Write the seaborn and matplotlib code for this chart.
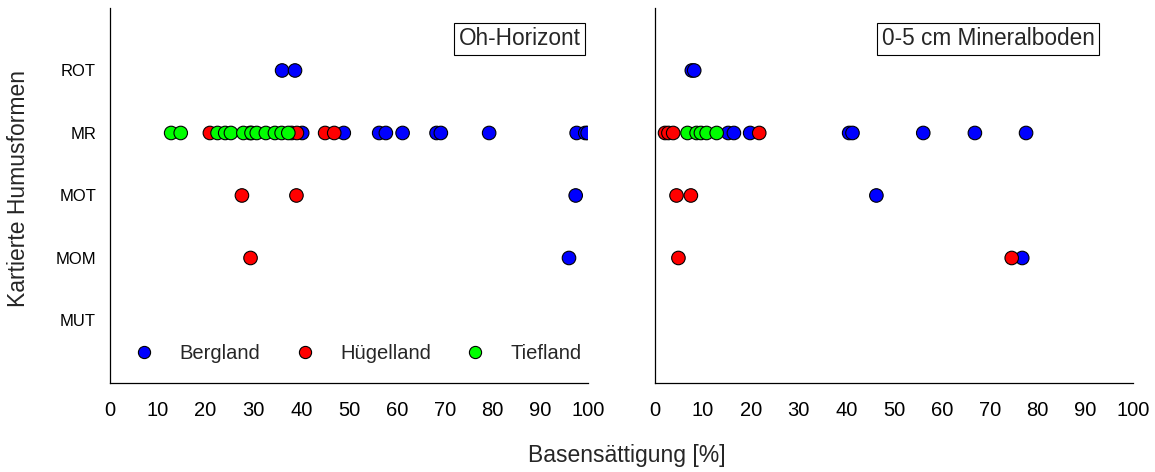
import pandas as pd
import matplotlib
matplotlib.use("Agg")
import matplotlib.pyplot as plt
import seaborn as sns

# Kategorien (von unten nach oben)
kategorien = ['MUT', 'MOM', 'MOT', 'MR', 'ROT']
regionen = ['Bergland', 'Hügelland', 'Tiefland']
farben = {'Bergland': '#0000FF', 'Hügelland': '#FF0000', 'Tiefland': '#00FF00'}

# Oh-Horizont
oh_berg_x = [36.0, 38.7, 40.2, 48.9, 56.3, 57.7, 61.2, 68.3, 69.2, 79.3, 97.6, 99.4, 99.9, 97.4, 96.0]
oh_berg_y = ['ROT', 'ROT', 'MR', 'MR', 'MR', 'MR', 'MR', 'MR', 'MR', 'MR', 'MR', 'MR', 'MR', 'MOT', 'MOM']
oh_hueg_x = [20.9, 29.3, 38.0, 39.1, 45.0, 46.9, 27.6, 39.0, 29.4]
oh_hueg_y = ['MR', 'MR', 'MR', 'MR', 'MR', 'MR', 'MOT', 'MOT', 'MOM']
oh_tief_x = [12.8, 14.8, 22.5, 24.1, 25.3, 27.9, 29.6, 30.7, 32.6, 34.5, 35.9, 37.3]
oh_tief_y = ['MR'] * 12

# 0-5 cm Mineralboden
mb_berg_x = [7.7, 8.2, 15.3, 16.5, 19.9, 40.6, 41.3, 56.1, 66.9, 77.6, 46.3, 76.8]
mb_berg_y = ['ROT', 'ROT', 'MR', 'MR', 'MR', 'MR', 'MR', 'MR', 'MR', 'MR', 'MOT', 'MOM']
mb_hueg_x = [2.1, 2.8, 3.8, 21.8, 4.5, 7.5, 4.9, 74.6]
mb_hueg_y = ['MR', 'MR', 'MR', 'MR', 'MOT', 'MOT', 'MOM', 'MOM']
mb_tief_x = [6.8, 8.7, 9.6, 10.8, 12.9]
mb_tief_y = ['MR'] * 5


def tabelle(xs, ys):
    teile = []
    for reg, x, y in zip(regionen, xs, ys):
        teile.append(pd.DataFrame({'wert': x, 'form': y, 'region': reg}))
    df = pd.concat(teile, ignore_index=True)
    df['pos'] = df['form'].map({k: i + 1 for i, k in enumerate(kategorien)})
    return df


oh = tabelle([oh_berg_x, oh_hueg_x, oh_tief_x], [oh_berg_y, oh_hueg_y, oh_tief_y])
mb = tabelle([mb_berg_x, mb_hueg_x, mb_tief_x], [mb_berg_y, mb_hueg_y, mb_tief_y])

sns.set_style("white")
plt.rcParams['font.family'] = ['Liberation Sans', 'DejaVu Sans']

fig = plt.figure(figsize=(11.55, 4.72), dpi=100)
ax1 = fig.add_axes([0.0952, 0.1886, 0.414, 0.7945])
ax2 = fig.add_axes([0.5671, 0.1886, 0.414, 0.7945])

panels = [(ax1, oh, 'Oh-Horizont', 0.984), (ax2, mb, '0-5 cm Mineralboden', 0.919)]
for ax, df, titel, xr in panels:
    sns.scatterplot(data=df, x='wert', y='pos', hue='region', hue_order=regionen,
                    palette=farben, s=95, edgecolor='black', linewidth=0.8,
                    legend=(ax is ax1), ax=ax, zorder=3)
    ax.set_xlim(0, 100)
    ax.set_ylim(0, 6)
    ax.set_xticks(range(0, 101, 10))
    ax.set_yticks(range(1, 6))
    ax.set_xlabel('')
    ax.set_ylabel('')
    for s in ['top', 'right']:
        ax.spines[s].set_visible(False)
    for s in ['left', 'bottom']:
        ax.spines[s].set_color('black')
        ax.spines[s].set_linewidth(0.9)
    ax.tick_params(axis='x', direction='out', length=5, width=0.8, labelsize=14.5, pad=8,
                   labelcolor='black')
    ax.tick_params(axis='y', direction='in', length=3, width=0.8, labelsize=12, pad=10,
                   labelcolor='black')
    ax.text(xr, 0.948, titel, transform=ax.transAxes, ha='right', va='top', fontsize=16.3,
            bbox=dict(boxstyle='square,pad=0.2', facecolor='white', edgecolor='black', linewidth=0.8))

ax1.set_yticklabels(kategorien)
ax2.set_yticklabels([])

leg = ax1.legend(loc='center left', bbox_to_anchor=(0.03, 0.078), ncol=3, frameon=False,
                 fontsize=14.5, handlelength=2.0, handletextpad=0.75, columnspacing=1.2,
                 borderpad=0, borderaxespad=0, markerscale=0.9)
for h in leg.legend_handles:
    h.set_markeredgecolor('black')

fig.text(0.016, 0.60, 'Kartierte Humusformen', rotation=90, ha='center', va='center', fontsize=16.5)
fig.text(0.543, 0.034, 'Basensättigung [%]', ha='center', va='center', fontsize=16.5)

fig.savefig('out.png', dpi=100)
